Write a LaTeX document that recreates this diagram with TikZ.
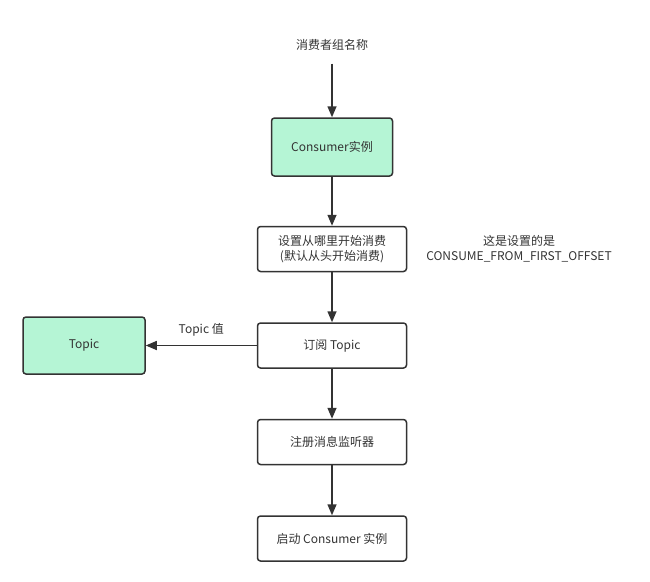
\documentclass[tikz,border=0pt]{standalone}
\usepackage{fontspec}
\setmainfont{Noto Sans CJK SC}
\usetikzlibrary{arrows.meta,positioning}

\definecolor{mint}{RGB}{181,245,213}
\definecolor{ink}{RGB}{51,51,51}

\begin{document}
\begin{tikzpicture}[x=1pt,y=-1pt,->,>={Triangle[width=9pt,length=11pt]},
                    line width=1.5pt,draw=ink,node distance=50pt,
                    font=\fontsize{12}{15}\selectfont,
                    step box/.style={draw=ink,rounded corners=3pt,align=center,
                                     minimum width=149pt,minimum height=45pt,text=ink},
                    green box/.style={step box,fill=mint,minimum width=121pt,minimum height=58pt},
                    plain/.style={align=center,text=ink}]
            \useasboundingbox (0,0) rectangle (650,581);
            \node[plain] (group) at (332,45) {消费者组名称};
            \node[green box] (consumer) at (332,147) {Consumer实例};
            \node[step box] (offset) [below=49pt of consumer] {设置从哪里开始消费\\(默认从头开始消费)};
            \node[plain] (note) at (519,249) {这是设置的是\\CONSUME\_FROM\_FIRST\_OFFSET};
            \node[step box] (subscribe) [below=of offset] {订阅 Topic};
            \node[green box,minimum width=122pt,minimum height=57pt] (topic) [left=111pt of subscribe] {Topic};
            \node[step box] (listener) [below=of subscribe] {注册消息监听器};
            \node[step box] (start) [below=of listener] {启动 Consumer 实例};

            \draw[ink,shorten <=9pt] (group) -- (consumer);
            \draw[ink] (consumer) -- (offset);
            \draw[ink] (offset) -- (subscribe);
            \draw[ink] (subscribe) -- node[plain,above=5pt] {Topic 值} (topic);
            \draw[ink] (subscribe) -- (listener);
            \draw[ink] (listener) -- (start);
        \end{tikzpicture}
\end{document}
